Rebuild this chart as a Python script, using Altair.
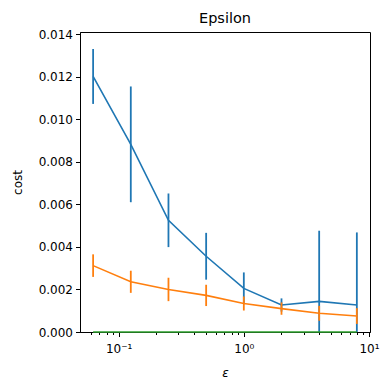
import altair as alt
import pandas as pd

eps = [1/16, 1/8, 1/4, 1/2, 1, 2, 4, 8]
series = ["blue", "orange", "green"]
blue_mean = [0.01201, 0.00882, 0.00525, 0.00356, 0.00205, 0.00127, 0.00144, 0.00127]
blue_err = [0.00129, 0.00272, 0.00126, 0.00110, 0.00075, 0.00031, 0.00332, 0.00341]
orange_mean = [0.00312, 0.00236, 0.00200, 0.00172, 0.00134, 0.00110, 0.00088, 0.00075]
orange_err = [0.00053, 0.00052, 0.00055, 0.00050, 0.00033, 0.00029, 0.00035, 0.00037]
green_mean = [0, 0, 0, 0, 0, 0, 0, 0]
green_err = [0, 0, 0, 0, 0, 0, 0, 0]

colors = {"blue": "#1f77b4", "orange": "#ff7f0e", "green": "#2ca02c"}
major_ticks = [0.1, 1, 10]
minor_ticks = [0.06, 0.07, 0.08, 0.09, 0.2, 0.3, 0.4, 0.5, 0.6, 0.7, 0.8, 0.9,
               2, 3, 4, 5, 6, 7, 8, 9]
y_ticks = [0.0, 0.002, 0.004, 0.006, 0.008, 0.010, 0.012, 0.014]

rows = []
for name, m, e in [("blue", blue_mean, blue_err), ("orange", orange_mean, orange_err),
                   ("green", green_mean, green_err)]:
    for x, mv, ev in zip(eps, m, e):
        rows.append({"series": name, "eps": x, "mean": mv, "lo": mv - ev, "hi": mv + ev})
df = pd.DataFrame(rows)

xscale = alt.Scale(type="log", domain=[0.0491, 10.19], nice=False)
yscale = alt.Scale(domain=[0, 0.0141], nice=False)

major_test = "datum.value == 0.1 || datum.value == 1 || datum.value == 10"
x_axis = alt.Axis(
    values=major_ticks + minor_ticks,
    tickSize={"condition": {"test": major_test, "value": 4.5}, "value": 2.5},
    labelPadding=7, labelOverlap=False, labelFontSize=12,
    titleFontStyle="italic", titlePadding=13,
    labelExpr="datum.value == 0.1 ? '10⁻¹' : datum.value == 1 ? '10⁰' : datum.value == 10 ? '10¹' : ''",
)
y_axis = alt.Axis(values=y_ticks, format=".3f", tickSize=4.5, labelPadding=3,
                  titlePadding=14)

x_enc = alt.X("eps:Q", scale=xscale, title="ε", axis=x_axis)

base = alt.Chart(df)
layers = []
for name in series:
    d = base.transform_filter(alt.datum.series == name)
    line = d.mark_line(color=colors[name], strokeWidth=1.6,
                       clip=(name != "green")).encode(
        x=x_enc,
        y=alt.Y("mean:Q", scale=yscale, title="cost", axis=y_axis),
    )
    layers.append(line)
    if name != "green":
        rule = d.mark_rule(color=colors[name], strokeWidth=1.8, clip=True).encode(
            x=x_enc,
            y=alt.Y("lo:Q", scale=yscale, title="cost", axis=y_axis),
            y2="hi:Q",
        )
        layers.append(rule)

chart = alt.layer(*layers).properties(
    width=290, height=300,
    title=alt.TitleParams("Epsilon", fontSize=14.5, fontWeight="normal", font="DejaVu Sans",
                          color="black", offset=2),
    autosize=alt.AutoSizeParams(type="none"),
    padding={"left": 72, "top": 24, "right": 12, "bottom": 50},
).configure_view(stroke="black", strokeWidth=1).configure_axis(
    labelFont="DejaVu Sans", labelFontSize=12, labelColor="black",
    titleFont="DejaVu Sans", titleFontSize=12, titleFontWeight="normal", titleColor="black",
    tickColor="black", domainColor="black", grid=False, domainWidth=1, tickWidth=1,
)

chart.save("out.html", embed_options={"renderer": "svg", "actions": False})
